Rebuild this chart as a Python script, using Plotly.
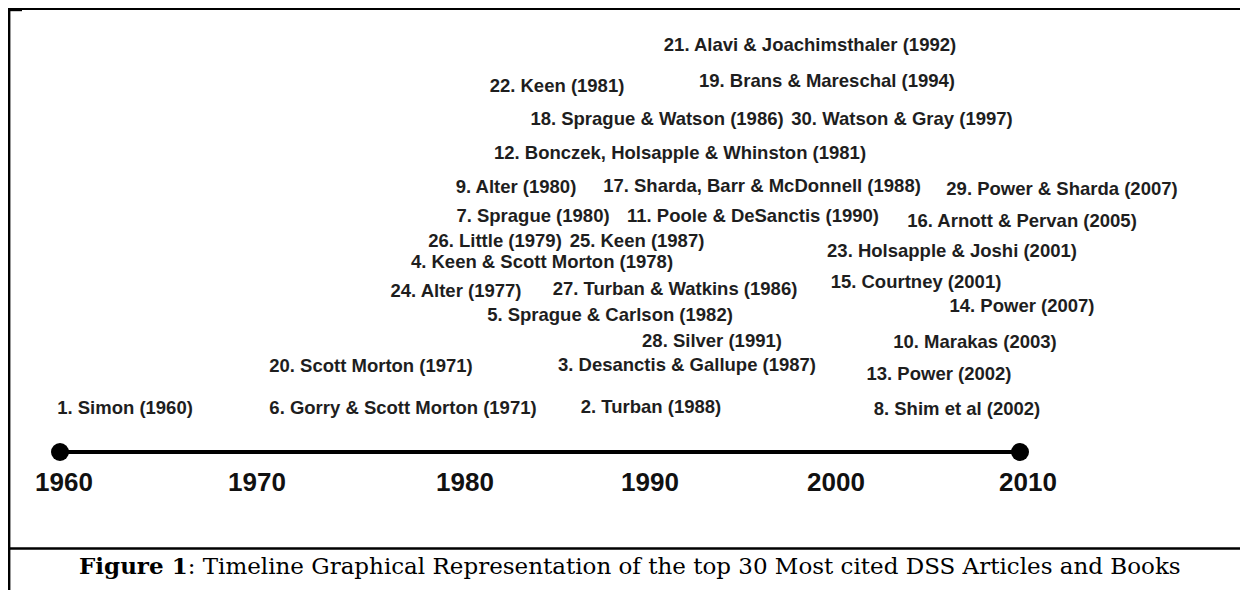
import plotly.graph_objects as go

# ---- data ----
article_labels = [
    "1. Simon (1960)", "2. Turban (1988)", "3. Desanctis & Gallupe (1987)",
    "4. Keen & Scott Morton (1978)", "5. Sprague & Carlson (1982)",
    "6. Gorry & Scott Morton (1971)", "7. Sprague (1980)", "8. Shim et al (2002)",
    "9. Alter (1980)", "10. Marakas (2003)", "11. Poole & DeSanctis (1990)",
    "12. Bonczek, Holsapple & Whinston (1981)", "13. Power (2002)", "14. Power (2007)",
    "15. Courtney (2001)", "16. Arnott & Pervan (2005)",
    "17. Sharda, Barr & McDonnell (1988)", "18. Sprague & Watson (1986)",
    "19. Brans & Mareschal (1994)", "20. Scott Morton (1971)",
    "21. Alavi & Joachimsthaler (1992)", "22. Keen (1981)",
    "23. Holsapple & Joshi (2001)", "24. Alter (1977)", "25. Keen (1987)",
    "26. Little (1979)", "27. Turban & Watkins (1986)", "28. Silver (1991)",
    "29. Power & Sharda (2007)", "30. Watson & Gray (1997)",
]
# label placement (page units: x across, y down)
label_x = [125, 651, 687, 542, 610, 403, 533, 957, 516, 975, 753, 680, 939, 1022,
           916, 1022, 762, 657, 827, 371, 810, 557, 952, 456, 637, 495, 675, 712,
           1062, 902]
label_y = [409, 408, 366, 263, 316, 409, 217, 410, 188, 343, 217, 154, 375, 307,
           283, 222, 187, 120, 82, 367, 46, 87, 252, 292, 242, 242, 290, 342,
           190, 120]

timeline_years = [1960, 2010]
year_ticks = ["1960", "1970", "1980", "1990", "2000", "2010"]
year_tick_x = [64, 257, 465, 650, 836, 1028]

caption_bold = "Figure 1"
caption_rest = ": Timeline Graphical Representation of the top 30 Most cited DSS Articles and Books"

# ---- figure ----
PAGE_W, PAGE_H = 1248, 590
OFF = 8  # default page body margin
W, H = PAGE_W - OFF, PAGE_H - OFF
TL_Y = 452
px_per_year = 19.2
x2_start = timeline_years[0] - (60 - OFF) / px_per_year
x2_end = x2_start + W / px_per_year

fig = go.Figure()

# timeline
fig.add_trace(go.Scatter(
    x=timeline_years, y=[TL_Y] * len(timeline_years), xaxis="x2", yaxis="y",
    mode="lines+markers",
    line=dict(color="#000000", width=4),
    marker=dict(color="#000000", size=18),
    hoverinfo="skip", showlegend=False, cliponaxis=False,
))

# article labels
fig.add_trace(go.Scatter(
    x=label_x, y=label_y, mode="text",
    text=["<b>%s</b>" % t for t in article_labels],
    textposition="middle center",
    textfont=dict(family="Liberation Sans, Arial, sans-serif", size=18.5, color="#1e1e1e"),
    hoverinfo="skip", showlegend=False, cliponaxis=False,
))

# year labels
fig.add_trace(go.Scatter(
    x=year_tick_x, y=[484] * len(year_tick_x), mode="text",
    text=["<b>%s</b>" % t for t in year_ticks],
    textposition="middle center",
    textfont=dict(family="Liberation Sans, Arial, sans-serif", size=26, color="#111111"),
    hoverinfo="skip", showlegend=False, cliponaxis=False,
))

# caption
fig.add_annotation(
    x=630, y=565, xref="x", yref="y",
    text="<b>%s</b>%s" % (caption_bold, caption_rest),
    showarrow=False, xanchor="center", yanchor="middle",
    font=dict(family="DejaVu Serif, Liberation Serif, serif", size=23, color="#000000"),
)

# frame lines
fig.add_shape(type="line", xref="x", yref="y", x0=8, x1=PAGE_W, y0=9, y1=9,
              line=dict(color="#000000", width=2))
fig.add_shape(type="line", xref="x", yref="y", x0=8, x1=22, y0=9.6, y1=9.6,
              line=dict(color="#000000", width=3.2))
fig.add_shape(type="line", xref="x", yref="y", x0=9.2, x1=9.2, y0=8, y1=PAGE_H,
              line=dict(color="#000000", width=2.4))
fig.add_shape(type="line", xref="x", yref="y", x0=8, x1=PAGE_W, y0=548.5, y1=548.5,
              line=dict(color="#000000", width=2.5))

fig.update_layout(
    width=W, height=H,
    margin=dict(l=0, r=0, t=0, b=0),
    paper_bgcolor="#ffffff", plot_bgcolor="#ffffff",
    xaxis=dict(range=[OFF, PAGE_W], visible=False, fixedrange=True),
    xaxis2=dict(range=[x2_start, x2_end], visible=False, overlaying="x",
                anchor="y", fixedrange=True),
    yaxis=dict(range=[PAGE_H, OFF], visible=False, fixedrange=True),
    showlegend=False,
)

fig.write_html("out.html", config={"displayModeBar": False})
